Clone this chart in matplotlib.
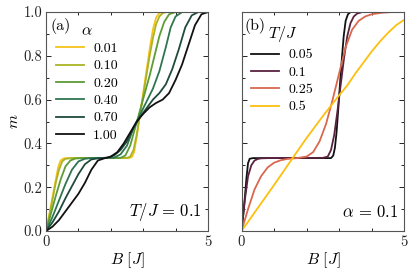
import numpy as np
import matplotlib
matplotlib.use("Agg")
import matplotlib.pyplot as plt
from matplotlib.ticker import MultipleLocator

plt.rcParams["font.family"] = "serif"
plt.rcParams["font.serif"] = ["cmr10", "DejaVu Serif"]
plt.rcParams["mathtext.fontset"] = "cm"
plt.rcParams["axes.formatter.use_mathtext"] = True
plt.rcParams["axes.unicode_minus"] = False

# ── Panel (a): T/J = 0.1, rôzne alpha ────────────────────────────────────────
alpha_labels = ["0.01", "0.10", "0.20", "0.40", "0.70", "1.00"]
alpha_colors = ["#f5c21b", "#a9b424", "#5c9b35", "#2e7650", "#1f4b3b", "#111111"]

a_B = [
    [0, 0.1, 0.2, 0.3, 0.38, 0.45, 0.55, 0.7, 2.55, 2.65, 2.72, 2.8, 2.9, 3.0, 3.1, 3.2, 3.3, 3.4, 3.5, 3.6, 5.0],
    [0, 0.1, 0.2, 0.3, 0.4, 0.5, 0.6, 0.8, 2.5, 2.6, 2.7, 2.8, 2.9, 3.0, 3.1, 3.2, 3.3, 3.4, 3.5, 3.6, 3.7, 5.0],
    [0, 0.15, 0.3, 0.45, 0.6, 0.75, 0.9, 1.1, 2.3, 2.45, 2.6, 2.75, 2.9, 3.05, 3.2, 3.35, 3.5, 3.65, 3.8, 4.0, 5.0],
    [0, 0.2, 0.4, 0.6, 0.8, 1.0, 1.2, 1.4, 2.1, 2.3, 2.5, 2.7, 2.9, 3.1, 3.3, 3.5, 3.7, 3.85, 4.0, 4.2, 5.0],
    [0, 0.2, 0.4, 0.6, 0.8, 1.0, 1.2, 1.4, 1.6, 1.9, 2.1, 2.3, 2.5, 2.7, 2.9, 3.1, 3.3, 3.5, 3.7, 3.9, 4.1, 4.3, 4.5, 4.7, 5.0],
    [0, 0.2, 0.4, 0.6, 0.8, 1.0, 1.2, 1.4, 1.6, 1.8, 2.0, 2.2, 2.4, 2.6, 2.8, 3.0, 3.2, 3.4, 3.6, 3.8, 4.0, 4.2, 4.4, 4.6, 4.8, 5.0],
]
a_m = [
    [0, 0.075, 0.155, 0.235, 0.295, 0.322, 0.332, 0.333, 0.333, 0.338, 0.36, 0.43, 0.53, 0.63, 0.73, 0.83, 0.92, 0.975, 0.996, 1.0, 1.0],
    [0, 0.07, 0.145, 0.22, 0.28, 0.318, 0.33, 0.333, 0.334, 0.34, 0.37, 0.44, 0.53, 0.62, 0.71, 0.8, 0.88, 0.945, 0.98, 0.995, 1.0, 1.0],
    [0, 0.08, 0.16, 0.235, 0.295, 0.322, 0.331, 0.333, 0.334, 0.345, 0.39, 0.47, 0.55, 0.63, 0.71, 0.8, 0.89, 0.955, 0.99, 1.0, 1.0],
    [0, 0.065, 0.14, 0.215, 0.28, 0.318, 0.33, 0.333, 0.335, 0.35, 0.39, 0.47, 0.53, 0.59, 0.65, 0.73, 0.84, 0.93, 0.98, 1.0, 1.0],
    [0, 0.04, 0.09, 0.15, 0.205, 0.26, 0.305, 0.327, 0.332, 0.335, 0.345, 0.37, 0.41, 0.47, 0.52, 0.56, 0.6, 0.63, 0.67, 0.74, 0.83, 0.93, 0.985, 1.0, 1.0],
    [0, 0.02, 0.05, 0.09, 0.13, 0.17, 0.22, 0.28, 0.322, 0.332, 0.34, 0.36, 0.4, 0.45, 0.5, 0.535, 0.565, 0.585, 0.6, 0.63, 0.69, 0.76, 0.85, 0.94, 0.99, 1.0],
]

# ── Panel (b): alpha = 0.1, rôzne T/J ────────────────────────────────────────
temp_labels = ["0.05", "0.1", "0.25", "0.5"]
temp_colors = ["#111111", "#5b2240", "#d8684f", "#fdbf0f"]

b_B = [
    [0, 0.05, 0.1, 0.15, 0.2, 0.25, 0.35, 2.75, 2.82, 2.87, 2.92, 2.97, 3.02, 3.08, 3.14, 3.2, 3.27, 3.35, 5.0],
    [0, 0.1, 0.2, 0.3, 0.4, 0.5, 0.6, 0.8, 2.5, 2.65, 2.75, 2.85, 2.95, 3.05, 3.15, 3.25, 3.35, 3.45, 3.55, 3.7, 5.0],
    [0, 0.2, 0.4, 0.6, 0.8, 1.0, 1.2, 1.4, 1.7, 2.0, 2.2, 2.4, 2.6, 2.8, 3.0, 3.2, 3.4, 3.6, 3.8, 4.0, 4.3, 4.6, 5.0],
    [0, 0.5, 1.0, 1.5, 2.0, 2.5, 3.0, 3.25, 3.5, 3.75, 4.0, 4.25, 4.5, 4.75, 5.0],
]
b_m = [
    [0, 0.07, 0.15, 0.24, 0.31, 0.33, 0.333, 0.333, 0.345, 0.38, 0.45, 0.55, 0.66, 0.78, 0.89, 0.96, 0.99, 1.0, 1.0],
    [0, 0.14, 0.25, 0.3, 0.322, 0.329, 0.332, 0.333, 0.334, 0.34, 0.37, 0.44, 0.55, 0.67, 0.79, 0.89, 0.95, 0.98, 0.993, 1.0, 1.0],
    [0, 0.1, 0.19, 0.25, 0.29, 0.312, 0.323, 0.329, 0.333, 0.34, 0.36, 0.41, 0.49, 0.6, 0.72, 0.84, 0.92, 0.96, 0.98, 0.99, 0.997, 1.0, 1.0],
    [0, 0.105, 0.21, 0.318, 0.425, 0.525, 0.62, 0.665, 0.72, 0.77, 0.82, 0.865, 0.905, 0.94, 0.965],
]


def style_axes(ax):
    ax.set_xlim(0, 5)
    ax.set_ylim(0, 1)
    ax.xaxis.set_major_locator(MultipleLocator(5))
    ax.xaxis.set_minor_locator(MultipleLocator(1))
    ax.yaxis.set_major_locator(MultipleLocator(0.2))
    ax.yaxis.set_minor_locator(MultipleLocator(0.1))
    ax.tick_params(which="both", direction="in", top=True, right=True,
                   labelsize=10.5, labelcolor="#222222")
    ax.tick_params(which="major", length=3.5, width=0.6, pad=2.5)
    ax.tick_params(which="minor", length=2.5, width=0.6)
    for s in ax.spines.values():
        s.set_color("#555555")
        s.set_linewidth(0.8)
    ax.set_xlabel(r"$B\ [J]$", fontsize=11.5, labelpad=1)


def add_legend(ax, title, x):
    ax.legend(title=title, loc="upper left", bbox_to_anchor=(x, 0.945),
              frameon=False, fontsize=10, title_fontsize=11.5, handlelength=2.0,
              handletextpad=0.7, labelspacing=0.33, borderpad=0, borderaxespad=0)


fig = plt.figure(figsize=(4.15, 2.75), dpi=100)
ax1 = fig.add_axes([0.111, 0.16, 0.390, 0.796])
ax2 = fig.add_axes([0.582, 0.16, 0.392, 0.796])

for B, m, lab, c in zip(a_B, a_m, alpha_labels, alpha_colors):
    ax1.plot(B, m, color=c, lw=1.3, label=lab)
style_axes(ax1)
ax1.set_yticks(np.arange(0, 1.01, 0.2))
ax1.set_yticklabels([f"{v:.1f}" for v in np.arange(0, 1.01, 0.2)])
ax1.set_ylabel(r"$m$", fontsize=11.5, labelpad=2)
ax1.text(0.025, 0.935, "(a)", transform=ax1.transAxes, fontsize=11.5, va="center")
ax1.text(0.965, 0.085, r"$T/J\,=\,0.1$", transform=ax1.transAxes, fontsize=12,
         ha="right", va="center")
add_legend(ax1, r"$\alpha$", 0.06)

for B, m, lab, c in zip(b_B, b_m, temp_labels, temp_colors):
    ax2.plot(B, m, color=c, lw=1.3, label=lab)
style_axes(ax2)
ax2.set_yticklabels([])
ax2.text(0.02, 0.935, "(b)", transform=ax2.transAxes, fontsize=11.5, va="center")
ax2.text(0.965, 0.085, r"$\alpha\,=\,0.1$", transform=ax2.transAxes, fontsize=12,
         ha="right", va="center")
add_legend(ax2, r"$T/J$", 0.06)

fig.savefig("out.png", dpi=100)
